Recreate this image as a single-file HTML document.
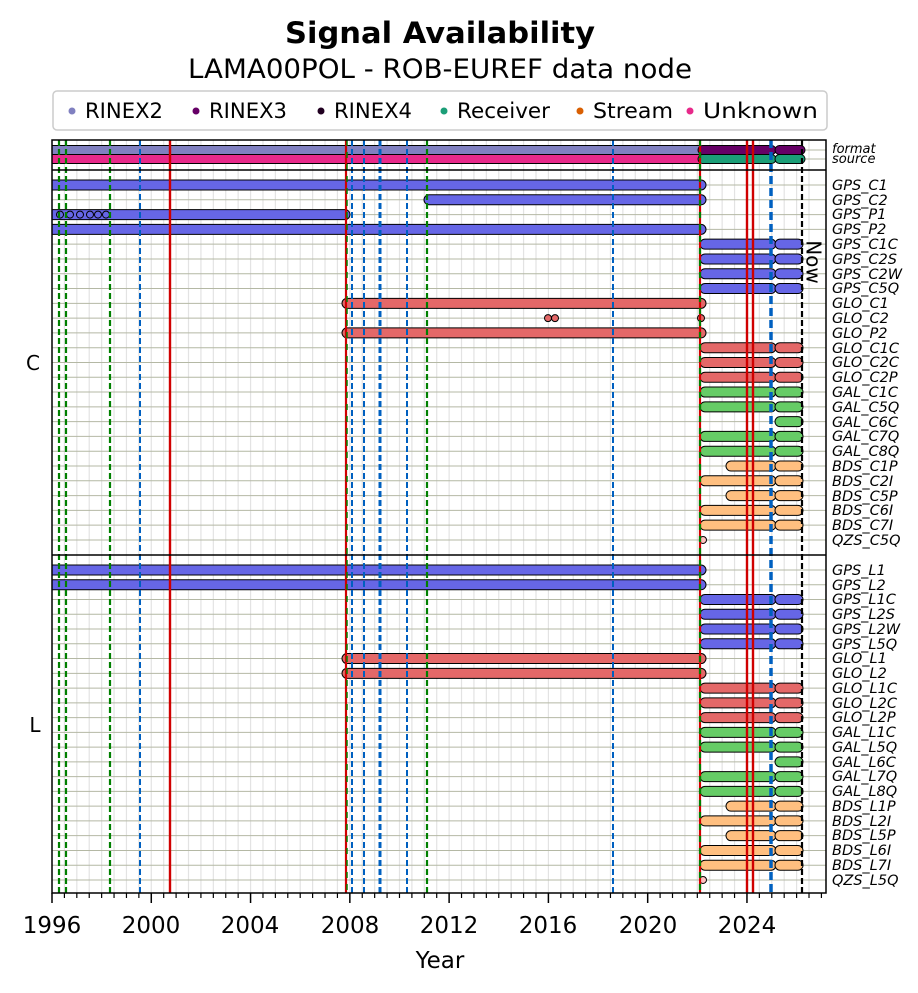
<!DOCTYPE html><html><head><style>body{margin:0;background:#fff}svg{display:block}text{font-family:"DejaVu Sans","Liberation Sans",sans-serif}</style></head><body>
<svg id="s" width="918" height="993" xmlns="http://www.w3.org/2000/svg">
<defs><clipPath id="cp"><rect x="52" y="140" width="774" height="753"/></clipPath></defs>
<g id="grid" clip-path="url(#cp)"></g><g id="bars" clip-path="url(#cp)"></g><g id="vl"></g>
<rect x="52" y="140" width="774" height="753" fill="none" stroke="#000" stroke-width="1.5"/>
<line x1="52" y1="170" x2="826" y2="170" stroke="#000" stroke-width="1.5"/>
<line x1="52" y1="555" x2="826" y2="555" stroke="#000" stroke-width="1.5"/>
<g id="ticks"></g>
<text x="440" y="43" font-size="29" font-weight="bold" text-anchor="middle" textLength="310" lengthAdjust="spacingAndGlyphs">Signal Availability</text>
<text x="440" y="78" font-size="27" text-anchor="middle" textLength="504" lengthAdjust="spacingAndGlyphs">LAMA00POL - ROB-EUREF data node</text>
<rect x="53" y="91" width="774" height="39" rx="4" fill="#fff" stroke="#ccc" stroke-width="1.5"/>
<g font-size="21">
<circle cx="72" cy="111" r="3.5" fill="#8080c0"/><text x="85" y="118" textLength="78" lengthAdjust="spacingAndGlyphs">RINEX2</text>
<circle cx="196" cy="111" r="3.5" fill="#660066"/><text x="209" y="118" textLength="78" lengthAdjust="spacingAndGlyphs">RINEX3</text>
<circle cx="321" cy="111" r="3.5" fill="#200020"/><text x="334" y="118" textLength="78" lengthAdjust="spacingAndGlyphs">RINEX4</text>
<circle cx="444" cy="111" r="3.5" fill="#1b9e77"/><text x="457" y="118" textLength="93" lengthAdjust="spacingAndGlyphs">Receiver</text>
<circle cx="580" cy="111" r="3.5" fill="#d95f02"/><text x="593" y="118" textLength="80" lengthAdjust="spacingAndGlyphs">Stream</text>
<circle cx="690" cy="111" r="3.5" fill="#e7298a"/><text x="703" y="118" textLength="115" lengthAdjust="spacingAndGlyphs">Unknown</text>
</g>
<g font-size="23" text-anchor="middle">
<text x="52" y="933">1996</text><text x="151" y="933">2000</text><text x="250" y="933">2004</text><text x="350" y="933">2008</text><text x="449" y="933">2012</text><text x="548" y="933">2016</text><text x="648" y="933">2020</text><text x="747" y="933">2024</text>
<text x="440" y="968">Year</text>
<text x="33" y="370" font-size="20">C</text><text x="35" y="732" font-size="20">L</text>
</g>
<text transform="translate(812,262) rotate(90)" font-size="20" text-anchor="middle" dominant-baseline="middle">Now</text>
<g font-size="14.5" font-style="italic">
<text x="832" y="153" font-size="13">format</text><text x="832" y="163" font-size="13">source</text>
<text x="832" y="190">GPS_C1</text><text x="832" y="205">GPS_C2</text><text x="832" y="219">GPS_P1</text><text x="832" y="234">GPS_P2</text><text x="832" y="249">GPS_C1C</text><text x="832" y="264">GPS_C2S</text><text x="832" y="279">GPS_C2W</text><text x="832" y="293">GPS_C5Q</text><text x="832" y="308">GLO_C1</text><text x="832" y="323">GLO_C2</text><text x="832" y="338">GLO_P2</text><text x="832" y="353">GLO_C1C</text><text x="832" y="367">GLO_C2C</text><text x="832" y="382">GLO_C2P</text><text x="832" y="397">GAL_C1C</text><text x="832" y="412">GAL_C5Q</text><text x="832" y="427">GAL_C6C</text><text x="832" y="441">GAL_C7Q</text><text x="832" y="456">GAL_C8Q</text><text x="832" y="471">BDS_C1P</text><text x="832" y="486">BDS_C2I</text><text x="832" y="501">BDS_C5P</text><text x="832" y="515">BDS_C6I</text><text x="832" y="530">BDS_C7I</text><text x="832" y="545">QZS_C5Q</text>
<text x="832" y="575">GPS_L1</text><text x="832" y="590">GPS_L2</text><text x="832" y="604">GPS_L1C</text><text x="832" y="619">GPS_L2S</text><text x="832" y="634">GPS_L2W</text><text x="832" y="649">GPS_L5Q</text><text x="832" y="663">GLO_L1</text><text x="832" y="678">GLO_L2</text><text x="832" y="693">GLO_L1C</text><text x="832" y="708">GLO_L2C</text><text x="832" y="722">GLO_L2P</text><text x="832" y="737">GAL_L1C</text><text x="832" y="752">GAL_L5Q</text><text x="832" y="767">GAL_L6C</text><text x="832" y="781">GAL_L7Q</text><text x="832" y="796">GAL_L8Q</text><text x="832" y="811">BDS_L1P</text><text x="832" y="826">BDS_L2I</text><text x="832" y="840">BDS_L5P</text><text x="832" y="855">BDS_L6I</text><text x="832" y="870">BDS_L7I</text><text x="832" y="885">QZS_L5Q</text>
</g>
</svg>
<script>
const NS="http://www.w3.org/2000/svg";
function el(p,t,a){const e=document.createElementNS(NS,t);for(const k in a)e.setAttribute(k,a[k]);document.getElementById(p).appendChild(e);return e;}
const X=y=>52+(y-1996)*24.82;
for(let q=0;q<31*2;q++){const x=X(1996+q/2);if(x>826)break;el('grid','line',{x1:x,x2:x,y1:140,y2:893,stroke:'#e3e3e3','stroke-width':1.2});}
const C=[],L=[];
for(let i=0;i<25;i++)C.push(185+i*14.79);
for(let i=0;i<22;i++)L.push(570+i*14.76);
[...C,...L,150,159].forEach(y=>el('grid','line',{x1:52,x2:826,y1:y,y2:y,stroke:'#b4b8a4','stroke-width':1}));
const col={G:'#6666e6',R:'#e46868',E:'#66cc66',B:'#ffbf80',Q:'#ffc0c0'};
function bar(x1,x2,y,c,h){h=h||10;el('bars','rect',{x:x1,y:y-h/2,width:x2-x1,height:h,rx:h/2,fill:c,stroke:'#000','stroke-width':1});}
function nw(y,c,s){if(s==null)s=700;if(s<775)bar(s,776,y,c);bar(775,803,y,c);}
function dot(x,y,c){el('bars','circle',{cx:x,cy:y,r:3.5,fill:c,stroke:'#000','stroke-width':1});}
bar(40,703,150,'#8080c0',9);bar(698,776,150,'#660066',9);bar(775,805,150,'#660066',9);
bar(40,703,159,'#e7298a',9);bar(698,776,159,'#1b9e77',9);bar(775,805,159,'#1b9e77',9);
const G=col.G,R=col.R,E=col.E,B=col.B;
bar(40,706,C[0],G);bar(424,706,C[1],G);bar(40,350,C[2],G);[60,70,80,90,98,106].forEach(x=>dot(x,C[2],G));bar(40,706,C[3],G);
for(let i=4;i<8;i++)nw(C[i],G);
bar(342,706,C[8],R);dot(548,C[9],R);dot(555,C[9],R);dot(701,C[9],R);bar(342,706,C[10],R);
for(let i=11;i<14;i++)nw(C[i],R);
nw(C[14],E);nw(C[15],E);nw(C[16],E,775);nw(C[17],E);nw(C[18],E);
nw(C[19],B,726);nw(C[20],B);nw(C[21],B,726);nw(C[22],B);nw(C[23],B);dot(703,C[24],col.Q);
bar(40,706,L[0],G);bar(40,706,L[1],G);for(let i=2;i<6;i++)nw(L[i],G);
bar(342,706,L[6],R);bar(342,706,L[7],R);for(let i=8;i<11;i++)nw(L[i],R);
nw(L[11],E);nw(L[12],E);nw(L[13],E,775);nw(L[14],E);nw(L[15],E);
nw(L[16],B,726);nw(L[17],B);nw(L[18],B,726);nw(L[19],B);nw(L[20],B);dot(703,L[21],col.Q);
function vl(x,c,w,d){el('vl','line',{x1:x,x2:x,y1:140,y2:893,stroke:c,'stroke-width':w,'stroke-dasharray':d||'none'});}
[59,66,110,427].forEach(x=>vl(x,'#008000',2.2,'6,3'));
[140,352,364,407,613].forEach(x=>vl(x,'#0060c0',2,'6,3'));
vl(380,'#0060c0',3,'6,3');vl(771,'#0060c0',3.5,'8,4');
vl(802,'#000',2.2,'6,3');
[170,747,753].forEach(x=>vl(x,'#d00000',2.4));
vl(346,'#d00000',2.2);vl(347,'#008000',1.5,'6,6');
vl(700,'#d00000',2.2);vl(700,'#008000',2.2,'6,6');
for(let q=0;q<=62;q++){const x=X(1996+q/2);if(x>826)break;const maj=(q%8==0);el('ticks','line',{x1:x,x2:x,y1:893,y2:893+(maj?10:5),stroke:'#000','stroke-width':maj?1.5:1.2});}
</script>
</body></html>
